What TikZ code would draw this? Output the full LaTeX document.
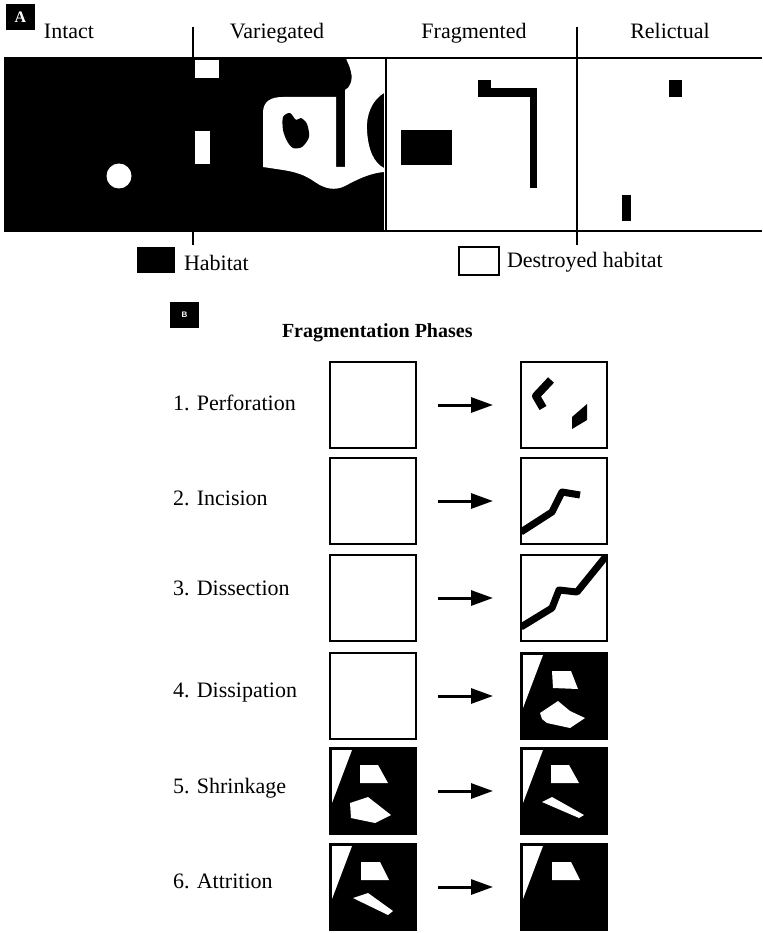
\documentclass[tikz,border=0pt]{standalone}
\usepackage{fontspec}
\setmainfont{Liberation Serif}
\setsansfont{Liberation Sans}
\usetikzlibrary{arrows.meta}

\begin{document}
\begin{tikzpicture}[x=1pt, y=-1pt,
  font=\fontsize{22}{26}\selectfont,
  every node/.style={inner sep=0pt, outer sep=0pt},
  frameline/.style={line width=2pt},
  divider/.style={line width=2.6pt},
  tagbox/.style={fill=black, text=white, minimum width=29pt, minimum height=26pt},
  phasebox/.style={draw=black, line width=2.6pt, minimum width=86pt, minimum height=86pt},
  darkbox/.style={phasebox, fill=black},
  hole/.style={fill=white},
  cut/.style={line width=7pt, line join=round},
  phasearrow/.style={line width=3pt, -{Triangle[length=22pt, width=15pt]},
    shorten <=22pt, shorten >=28pt},
]
\useasboundingbox (0,0) rectangle (762,933);

% ---------------- Panel A: landscape strip ----------------
\node[tagbox, font=\fontsize{16}{18}\selectfont\bfseries] (tagA) at (20.5,17) {A};

% habitat block (intact + variegated)
\fill[black] (4,58) rectangle (384,231);
% intact: one small gap
\fill[white] (119,176) circle (12.5);
% variegated: clearings
\fill[white] (195,60) rectangle (219,78);
\fill[white] (195,131) rectangle (210,164);
\fill[white] (263,167) -- (263,113) .. controls (263,101) and (271,97) .. (283,97)
  -- (336,97) -- (336,167) -- (345,167) -- (345,90)
  .. controls (350,88) and (353,80) .. (351,72)
  .. controls (350,66) and (347,62) .. (346,58) -- (384,58) -- (384,93)
  .. controls (372,100) and (366,115) .. (367,130)
  .. controls (368,150) and (374,163) .. (384,168) -- (384,172)
  .. controls (370,173) and (356,180) .. (345,186)
  .. controls (335,191) and (325,189) .. (315,182)
  .. controls (305,175) and (296,172) .. (283,170) -- cycle;
\fill[black] plot[smooth cycle] coordinates {(283,117) (290,113) (296,120) (301,118)
  (307,124) (309,137) (302,147) (293,148) (287,141) (283,130)};

% fragmented: remnant patches
\fill[black] (401,130) rectangle (452,165);
\fill[black] (478,80) rectangle (491,97);
\fill[black] (478,88) rectangle (537,97);
\fill[black] (530,88) rectangle (537,188);
% relictual: tiny remnants
\fill[black] (669,80) rectangle (682,97);
\fill[black] (622,195) rectangle (631,221);

% frame and dividers
\draw[frameline] (4,58) -- (762,58);
\draw[frameline] (4,231) -- (762,231);
\draw[frameline] (386,58) -- (386,231);
\draw[divider] (193,27) -- (193,245);
\draw[divider] (577,27) -- (577,245);

% stage names
\node[anchor=base] (intact) at (69,39) {Intact};
\node[anchor=base] (varieg) at (277,39) {Variegated};
\node[anchor=base] (fragm) at (474,39) {Fragmented};
\node[anchor=base] (relict) at (670,39) {Relictual};

% legend
\node[fill=black, minimum width=38pt, minimum height=26pt] (keyH) at (156,260) {};
\node[anchor=base west] (keyHtext) at (184,270) {Habitat};
\node[draw=black, line width=2pt, minimum width=40pt, minimum height=28pt] (keyD) at (479,260.5) {};
\node[anchor=base west] (keyDtext) at (507,267) {Destroyed habitat};

% ---------------- Panel B: fragmentation phases ----------------
\node[tagbox, font=\sffamily\bfseries\fontsize{8}{9}\selectfont] (tagB) at (184.5,315) {B};
\node[anchor=base west, font=\fontsize{20}{24}\selectfont\bfseries] (title) at (282,337) {Fragmentation Phases};

% phase labels
\node[anchor=base west] (lab1) at (173,410) {1. Perforation};
\node[anchor=base west] (lab2) at (173,505) {2. Incision};
\node[anchor=base west] (lab3) at (173,595) {3. Dissection};
\node[anchor=base west] (lab4) at (173,697) {4. Dissipation};
\node[anchor=base west] (lab5) at (173,793) {5. Shrinkage};
\node[anchor=base west] (lab6) at (173,888) {6. Attrition};

% before / after boxes
\node[phasebox] (L1) at (373,405) {};
\node[phasebox] (R1) at (564,405) {};
\node[phasebox] (L2) at (373,501) {};
\node[phasebox] (R2) at (564,501) {};
\node[phasebox] (L3) at (373,598) {};
\node[phasebox] (R3) at (564,598) {};
\node[phasebox] (L4) at (373,696) {};
\node[darkbox]  (R4) at (564,696) {};
\node[darkbox]  (L5) at (373,791) {};
\node[darkbox]  (R5) at (564,791) {};
\node[darkbox]  (L6) at (373,887) {};
\node[darkbox]  (R6) at (564,887) {};

% 1. perforation
\begin{scope}[shift={(R1.north west)}]
  \draw[line width=8pt, line join=round] (30,18) -- (15,34) -- (22,46);
  \fill[black] (51,55) -- (66,42) -- (66,58) -- (51,67) -- cycle;
\end{scope}
% 2. incision
\begin{scope}[shift={(R2.north west)}]
  \clip (0,0) rectangle (86,86);
  \draw[cut] (0,74) -- (31,54) -- (41,34) -- (59,37);
\end{scope}
% 3. dissection
\begin{scope}[shift={(R3.north west)}]
  \clip (0,0) rectangle (86,86);
  \draw[cut] (0,72) -- (31,53) -- (38,35) -- (56,37) -- (86,0);
\end{scope}
% 4. dissipation
\begin{scope}[shift={(R4.north west)}]
  \fill[hole] (2,2) -- (22,2) -- (2,55) -- cycle;
  \fill[hole] (31,18) -- (50,18) -- (57,36) -- (32,35) -- cycle;
  \fill[hole] (19,60) -- (37,48) -- (49,58) -- (64,65) -- (49,75) -- (26,70) -- (21,66) -- cycle;
\end{scope}
% 5. shrinkage
\begin{scope}[shift={(L5.north west)}]
  \fill[hole] (2,2) -- (22,2) -- (2,55) -- cycle;
  \fill[hole] (30,17) -- (48,17) -- (58,35) -- (30,35) -- cycle;
  \fill[hole] (20,55) -- (38,49) -- (61,67) -- (45,75) -- (21,70) -- cycle;
\end{scope}
\begin{scope}[shift={(R5.north west)}]
  \fill[hole] (2,2) -- (22,2) -- (2,55) -- cycle;
  \fill[hole] (30,17) -- (48,17) -- (58,35) -- (30,35) -- cycle;
  \fill[hole] (21,54) -- (31,49) -- (63,67) -- (58,70) -- cycle;
\end{scope}
% 6. attrition
\begin{scope}[shift={(L6.north west)}]
  \fill[hole] (2,2) -- (22,2) -- (2,55) -- cycle;
  \fill[hole] (31,18) -- (50,18) -- (59,36) -- (31,36) -- cycle;
  \fill[hole] (23,54) -- (38,49) -- (63,67) -- (58,71) -- cycle;
\end{scope}
\begin{scope}[shift={(R6.north west)}]
  \fill[hole] (2,2) -- (22,2) -- (2,55) -- cycle;
  \fill[hole] (31,18) -- (50,18) -- (59,36) -- (31,36) -- cycle;
\end{scope}

% transitions
\foreach \i in {1,...,6}{
  \draw[phasearrow] (L\i.east) -- (R\i.west);
}
\end{tikzpicture}
\end{document}
